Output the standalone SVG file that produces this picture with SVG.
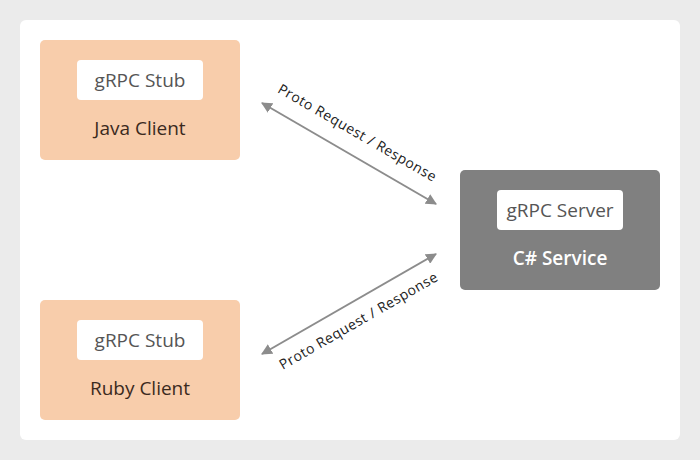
<svg xmlns="http://www.w3.org/2000/svg" width="700" height="460" viewBox="0 0 700 460">
  <defs>
    <style>
      .client { fill: #f8cdab; }
      .server { fill: #808080; }
      .inner { fill: #ffffff; }
      .t { font-family: "Open Sans", "Noto Sans", "Liberation Sans", sans-serif; text-anchor: middle; }
      .inner-t { font-size: 19px; fill: #555555; }
      .client-t { font-size: 19px; fill: #3b2a1e; }
      .server-t { font-size: 19px; fill: #ffffff; font-weight: 600; }
      .lbl { font-size: 14px; fill: #222222; letter-spacing: 0.5px; }
      .conn { stroke: #8c8c8c; stroke-width: 2; fill: none; marker-start: url(#ah); marker-end: url(#ah); }
    </style>
    <marker id="ah" viewBox="0 0 10 10" refX="9" refY="5" markerWidth="5.5" markerHeight="5.5" orient="auto-start-reverse" markerUnits="strokeWidth">
      <path d="M0,0 L10,5 L0,10 z" fill="#8c8c8c"/>
    </marker>
  </defs>
  <rect width="700" height="460" fill="#ebebeb"/>
  <rect x="20" y="20" width="660" height="420" rx="6" fill="#ffffff"/>

  <g id="connectors">
    <line class="conn" x1="262" y1="103" x2="436" y2="204"/>
    <text class="t lbl" transform="translate(355,137) rotate(30)">Proto Request / Response</text>
    <line class="conn" x1="262" y1="354" x2="436" y2="254"/>
    <text class="t lbl" transform="translate(361,325) rotate(-30)">Proto Request / Response</text>
  </g>

  <g id="java-client">
    <rect class="client" x="40" y="40" width="200" height="120" rx="5"/>
    <rect class="inner" x="77" y="60" width="126" height="40" rx="4"/>
    <text class="t inner-t" x="140" y="87">gRPC Stub</text>
    <text class="t client-t" x="140" y="135">Java Client</text>
  </g>

  <g id="ruby-client">
    <rect class="client" x="40" y="300" width="200" height="120" rx="5"/>
    <rect class="inner" x="77" y="320" width="126" height="40" rx="4"/>
    <text class="t inner-t" x="140" y="347">gRPC Stub</text>
    <text class="t client-t" x="140" y="395">Ruby Client</text>
  </g>

  <g id="csharp-service">
    <rect class="server" x="460" y="170" width="200" height="120" rx="5"/>
    <rect class="inner" x="497" y="190" width="126" height="40" rx="4"/>
    <text class="t inner-t" x="560" y="217">gRPC Server</text>
    <text class="t server-t" x="560" y="265">C# Service</text>
  </g>
</svg>
